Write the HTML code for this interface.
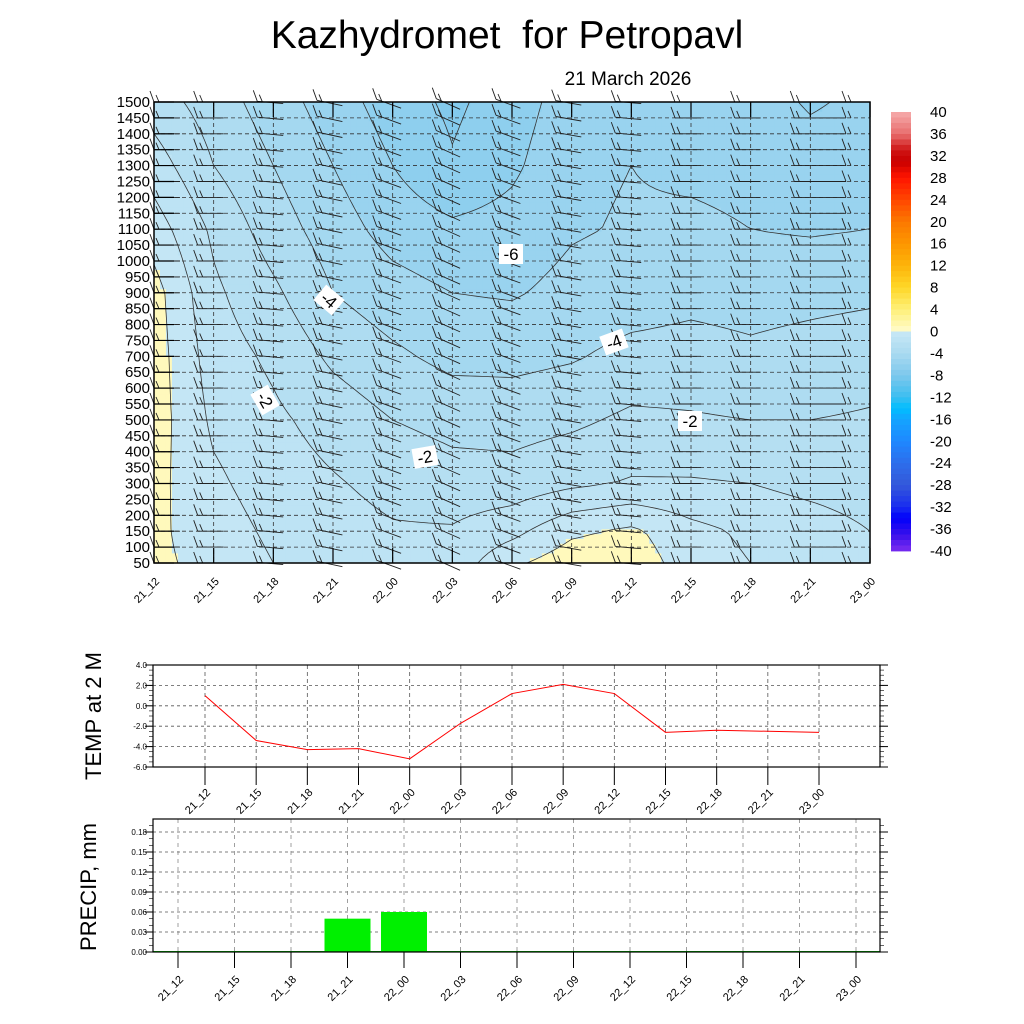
<!DOCTYPE html>
<html><head><meta charset="utf-8">
<style>
body{margin:0;background:#fff;width:1024px;height:1024px;overflow:hidden}
svg{display:block;font-family:"Liberation Sans",Arial,sans-serif}
</style></head>
<body>
<svg id="root" width="1024" height="1024" viewBox="0 0 1024 1024">
<text x="507" y="48" font-size="39" text-anchor="middle" style="white-space:pre">Kazhydromet  for Petropavl</text>
<text x="628" y="85" font-size="19" text-anchor="middle">21 March 2026</text>
<g id="cross"></g>
<g id="cbar"></g>
<g id="temp"></g>
<g id="prec"></g>
</svg>
<script>
const NS="http://www.w3.org/2000/svg";
function mk(p,tag,a){const e=document.createElementNS(NS,tag);for(const k in a)e.setAttribute(k,a[k]);p.appendChild(e);return e;}

// ---------- DATA ----------
const timeLabels=["21_12","21_15","21_18","21_21","22_00","22_03","22_06","22_09","22_12","22_15","22_18","22_21","23_00"];
const heightTicks=[1500,1450,1400,1350,1300,1250,1200,1150,1100,1050,1000,950,900,850,800,750,700,650,600,550,500,450,400,350,300,250,200,150,100,50];
const gridLevels=[50,150,300,500,700,900,1100,1300,1500];
const tRow50  =[0.2,-0.3,-1.0,-1.4,-1.8,-1.6,-0.2,0.6,0.6,-0.5,-1.0,-1.6,-1.8];
const tRow150 =[0.2,-0.5,-1.2,-1.6,-1.9,-1.9,-1.3,-0.2,0.2,-0.7,-1.2,-1.5,-2.0];
const tRow300 =[0.3,-0.8,-1.5,-1.9,-2.3,-2.6,-2.6,-2.2,-1.9,-1.9,-2.0,-2.3,-2.5];
const tRow500 =[0.5,-1.2,-1.8,-2.4,-3.0,-3.3,-3.4,-3.2,-2.8,-2.9,-3.0,-3.0,-2.9];
const tRow700 =[0.5,-1.5,-2.2,-3.2,-3.8,-4.3,-4.3,-4.1,-3.7,-3.6,-3.8,-3.6,-3.4];
const tRow900 =[0.4,-1.8,-2.8,-4.0,-4.6,-5.0,-5.1,-4.7,-4.5,-4.3,-4.4,-4.3,-4.2];
const tRow1100=[-0.5,-2.2,-3.5,-4.5,-5.4,-5.8,-5.6,-5.1,-4.9,-4.8,-5.0,-5.1,-5.0];
const tRow1300=[-1.5,-3.0,-4.0,-5.0,-6.0,-6.9,-6.2,-5.2,-5.0,-5.2,-5.3,-5.6,-5.5];
const tRow1500=[-2.5,-3.5,-4.5,-5.5,-6.5,-7.2,-6.5,-5.5,-5.2,-5.5,-5.6,-6.1,-5.8];
const tempRows=[tRow50,tRow150,tRow300,tRow500,tRow700,tRow900,tRow1100,tRow1300,tRow1500];
const windAngle=[0,0,5,12,20,24,20,10,5,0,0,0,180]; // staff direction (deg) per column
const cbarLabels=[40,36,32,28,24,20,16,12,8,4,0,-4,-8,-12,-16,-20,-24,-28,-32,-36,-40];
const tempCats=["21_12","21_15","21_18","21_21","22_00","22_03","22_06","22_09","22_12","22_15","22_18","22_21","23_00"];
const temp2m=[1.0,-3.4,-4.3,-4.2,-5.2,-1.7,1.2,2.1,1.2,-2.6,-2.4,-2.5,-2.6];
const tempTicks=[4,2,0,-2,-4,-6];
const precipCats=["21_12","21_15","21_18","21_21","22_00","22_03","22_06","22_09","22_12","22_15","22_18","22_21","23_00"];
const precip=[0,0,0,0.05,0.06,0,0,0,0,0,0,0,0];
const precipTicks=[0,0.03,0.06,0.09,0.12,0.15,0.18];

// ---------- COLORS ----------
const stops=[[40,[246,172,172]],[36,[232,110,110]],[33,[206,20,20]],[31,[200,0,0]],[28,[255,20,0]],[24,[255,70,0]],[20,[252,120,0]],[16,[253,150,0]],[12,[253,180,10]],[8,[254,215,40]],[4,[254,240,120]],[0.01,[255,251,205]],
[0,[200,232,246]],[-4,[170,218,240]],[-8,[125,200,236]],[-12,[60,190,240]],[-14,[0,190,255]],[-16,[20,165,255]],[-20,[30,136,255]],[-24,[45,110,235]],[-28,[52,88,218]],[-32,[25,45,240]],[-34,[0,0,250]],[-37,[55,15,235]],[-40,[125,45,240]]];
function colorAt(v){
  if(v>=stops[0][0])return stops[0][1];
  for(let i=0;i<stops.length-1;i++){const a=stops[i],b=stops[i+1];
    if(v<=a[0]&&v>=b[0]){const t=(a[0]-v)/(a[0]-b[0]||1);return a[1].map((c,k)=>Math.round(c+(b[1][k]-c)*t));}}
  return stops[stops.length-1][1];
}
function rgb(c){return "rgb("+c.join(",")+")";}
function bandColor(T){ if(T>=0) return "#fff9bc"; const b=Math.floor(T); return rgb(colorAt(b+0.5)); }

// ---------- CROSS SECTION ----------
const X0=154,X1=870,Y0=102,Y1=563;
const xCol=i=>X0+(X1-X0)*i/(timeLabels.length-1);
const yLev=h=>Y1-(h-50)/1450*(Y1-Y0);
function tAt(ci,h){
  const i0=Math.max(0,Math.min(timeLabels.length-2,Math.floor(ci))),fx=ci-i0;
  let j=0;while(j<gridLevels.length-2&&h>gridLevels[j+1])j++;
  const fy=(h-gridLevels[j])/(gridLevels[j+1]-gridLevels[j]);
  const a=tempRows[j][i0]*(1-fx)+tempRows[j][i0+1]*fx;
  const b=tempRows[j+1][i0]*(1-fx)+tempRows[j+1][i0+1]*fx;
  return a*(1-fy)+b*fy;
}
const cs=document.getElementById('cross');
const NX=120,NY=96;
const fillG=mk(cs,'g',{});


const cw=(X1-X0)/NX,ch=(Y1-Y0)/NY;
const node=[];
for(let r=0;r<=NY;r++){node.push([]);for(let c=0;c<=NX;c++){const ci=c/NX*(timeLabels.length-1);const h=50+(NY-r)/NY*1450;node[r].push(tAt(ci,h));}}
for(let r=0;r<NY;r++)for(let c=0;c<NX;c++){
  const T=(node[r][c]+node[r+1][c]+node[r][c+1]+node[r+1][c+1])/4;
  const e=mk(fillG,'rect',{x:(X0+c*cw).toFixed(2),y:(Y0+r*ch).toFixed(2),width:(cw+0.6).toFixed(2),height:(ch+0.6).toFixed(2),fill:bandColor(T)});
  
  
}
for(let L=-7;L<=0;L++){
  let d="";
  for(let r=0;r<NY;r++)for(let c=0;c<NX;c++){
    const v=[node[r][c],node[r][c+1],node[r+1][c+1],node[r+1][c]];
    const p=[[X0+c*cw,Y0+r*ch],[X0+(c+1)*cw,Y0+r*ch],[X0+(c+1)*cw,Y0+(r+1)*ch],[X0+c*cw,Y0+(r+1)*ch]];
    const pts=[];
    for(let k=0;k<4;k++){const a=v[k],b=v[(k+1)%4];
      if((a<L)!==(b<L)){const t=(L-a)/(b-a);const pa=p[k],pb=p[(k+1)%4];pts.push([pa[0]+(pb[0]-pa[0])*t,pa[1]+(pb[1]-pa[1])*t]);}}
    for(let k=0;k+1<pts.length;k+=2)d+="M"+pts[k][0].toFixed(1)+" "+pts[k][1].toFixed(1)+"L"+pts[k+1][0].toFixed(1)+" "+pts[k+1][1].toFixed(1);
  }
  const e=mk(cs,'path',{d:d,stroke:"#333",'stroke-width':0.8,fill:"none"});
  
  
}
const gridG=mk(cs,'g',{stroke:"#333",'stroke-width':0.8,'stroke-dasharray':"4 3",fill:"none"});
heightTicks.forEach(h=>{const l=mk(gridG,'line',{x1:X0,x2:X1,y1:yLev(h),y2:yLev(h)});
  
  });
timeLabels.forEach((t,i)=>{const l=mk(gridG,'line',{x1:xCol(i),x2:xCol(i),y1:Y0,y2:Y1});
  
  });
const barbG=mk(cs,'g',{stroke:"#222",'stroke-width':0.9,fill:"none"});
timeLabels.forEach((t,i)=>{heightTicks.forEach(h=>{
  const x=xCol(i),y=yLev(h),a=windAngle[i]*Math.PI/180,len=26;
  const sx=i===0?x:(i===12?x-24:x-16), sy=y-Math.sin(a)*8;
  const ex=sx+Math.cos(a)*len, ey=sy+Math.sin(a)*len;
  const ox=sx, oy=sy;
  const d="M"+sx.toFixed(1)+" "+sy.toFixed(1)+"L"+ex.toFixed(1)+" "+ey.toFixed(1)+"M"+ox.toFixed(1)+" "+oy.toFixed(1)+"l-4 -11"+"M"+(ox+5).toFixed(1)+" "+(oy+Math.sin(a)*5).toFixed(1)+"l-3 -7";
  const e=mk(barbG,'path',{d:d});
  
  
});});
const fr=mk(cs,'rect',{x:X0,y:Y0,width:X1-X0,height:Y1-Y0,fill:"none",stroke:"#000",'stroke-width':1.5});


heightTicks.forEach(h=>{
  const t=mk(cs,'text',{x:150,y:yLev(h)+5,'font-size':15,'text-anchor':'end'});t.textContent=h;
  
  
  mk(cs,'line',{x1:X0,x2:X0+20,y1:yLev(h),y2:yLev(h),stroke:"#000",'stroke-width':1.2});
});
timeLabels.forEach((lab,i)=>{
  const x=xCol(i);
  mk(cs,'line',{x1:x,x2:x,y1:Y0,y2:Y0+15,stroke:"#000",'stroke-width':1.2});
  mk(cs,'line',{x1:x,x2:x,y1:Y1,y2:Y1-15,stroke:"#000",'stroke-width':1.2});
  const t=mk(cs,'text',{x:x+6,y:582,'font-size':11,'text-anchor':'end',transform:"rotate(-45 "+(x+6)+" 582)"});t.textContent=lab;
  
  
});
[["-4",329,300,40],["-2",265,400,60],["-2",425,457,-10],["-6",511,254,0],["-4",614,342,-20],["-2",690,421,0]].forEach(c=>{
  const g=mk(cs,'g',{transform:"translate("+c[1]+" "+c[2]+") rotate("+c[3]+")"});
  
  
  mk(g,'rect',{x:-12,y:-10,width:24,height:20,fill:"#fff"});
  const t=mk(g,'text',{x:0,y:6,'font-size':17,'text-anchor':'middle'});t.textContent=c[0];
});

// ---------- COLORBAR ----------
const cb=document.getElementById('cbar');
const CB_T=112,CB_B=551,CB_X=891,CB_W=20;
const yCb=v=>CB_T+(40-v)/80*(CB_B-CB_T);
for(let v=40;v>-40;v--){
  const e=mk(cb,'rect',{x:CB_X,y:yCb(v).toFixed(2),width:CB_W,height:(yCb(v-1)-yCb(v)+0.4).toFixed(2),fill:rgb(colorAt(v-0.5))});
  
  
}
cbarLabels.forEach(v=>{const t=mk(cb,'text',{x:930,y:yCb(v)+5,'font-size':15});t.textContent=v;
  
  });

// ---------- TEMP CHART ----------
const tg=document.getElementById('temp');
const TX0=153,TX1=880,TY0=665,TY1=767;
const xT=i=>205+(819-205)*i/(tempCats.length-1);
const yT=v=>TY1-(v+6)/10*(TY1-TY0);
tempTicks.forEach(v=>{
  if(v!==4&&v!==-6){const l=mk(tg,'line',{x1:TX0,x2:TX1,y1:yT(v),y2:yT(v),stroke:"#555",'stroke-dasharray':"3 3",'stroke-width':0.8});
    
    }
  const t=mk(tg,'text',{x:147,y:yT(v)+3,'font-size':8,'text-anchor':'end'});t.textContent=v.toFixed(1);
  
  
  mk(tg,'line',{x1:TX0,x2:TX0-8,y1:yT(v),y2:yT(v),stroke:"#000"});
  mk(tg,'line',{x1:TX1,x2:TX1+8,y1:yT(v),y2:yT(v),stroke:"#000"});
});
for(let v=-6;v<=4;v+=0.5){mk(tg,'line',{x1:TX0,x2:TX0-4,y1:yT(v),y2:yT(v),stroke:"#000",'stroke-width':0.6});mk(tg,'line',{x1:TX1,x2:TX1+4,y1:yT(v),y2:yT(v),stroke:"#000",'stroke-width':0.6});}
tempCats.forEach((c,i)=>{
  const l=mk(tg,'line',{x1:xT(i),x2:xT(i),y1:TY0,y2:TY1,stroke:"#555",'stroke-dasharray':"4 3",'stroke-width':0.8});
  
  
  mk(tg,'line',{x1:xT(i),x2:xT(i),y1:TY1,y2:TY1+18,stroke:"#000"});
  const t=mk(tg,'text',{x:xT(i)+6,y:793,'font-size':11,'text-anchor':'end',transform:"rotate(-45 "+(xT(i)+6)+" 793)"});t.textContent=c;
  
  
});
const tf=mk(tg,'rect',{x:TX0,y:TY0,width:TX1-TX0,height:TY1-TY0,fill:"none",stroke:"#000",'stroke-width':1.2});


const tl=mk(tg,'polyline',{points:temp2m.map((v,i)=>xT(i)+","+yT(v)).join(" "),fill:"none",stroke:"#f00",'stroke-width':1});


const tt=mk(tg,'text',{x:101,y:716,'font-size':22,'text-anchor':'middle',transform:"rotate(-90 101 716)"});tt.textContent="TEMP at 2 M";



// ---------- PRECIP CHART ----------
const pg=document.getElementById('prec');
const PX0=153,PX1=880,PY0=819,PY1=952;
const xP=i=>178+(856-178)*i/(precipCats.length-1);
const yP=v=>PY1-v/0.18*(PY1-832);
precipTicks.forEach(v=>{
  if(v>0){const l=mk(pg,'line',{x1:PX0,x2:PX1,y1:yP(v),y2:yP(v),stroke:"#555",'stroke-dasharray':"3 3",'stroke-width':0.8});
    
    }
  const t=mk(pg,'text',{x:147,y:yP(v)+3,'font-size':8,'text-anchor':'end'});t.textContent=v.toFixed(2);
  
  
  mk(pg,'line',{x1:PX0,x2:PX0-8,y1:yP(v),y2:yP(v),stroke:"#000"});
  mk(pg,'line',{x1:PX1,x2:PX1+8,y1:yP(v),y2:yP(v),stroke:"#000"});
});
for(let v=0;v<=0.195;v+=0.01){mk(pg,'line',{x1:PX0,x2:PX0-4,y1:yP(v),y2:yP(v),stroke:"#000",'stroke-width':0.6});mk(pg,'line',{x1:PX1,x2:PX1+4,y1:yP(v),y2:yP(v),stroke:"#000",'stroke-width':0.6});}
precipCats.forEach((c,i)=>{
  const l=mk(pg,'line',{x1:xP(i),x2:xP(i),y1:PY0,y2:PY1,stroke:"#888",'stroke-dasharray':"4 4",'stroke-width':0.8});
  
  
  mk(pg,'line',{x1:xP(i),x2:xP(i),y1:PY1,y2:PY1+16,stroke:"#000"});
  const t=mk(pg,'text',{x:xP(i)+6,y:980,'font-size':11,'text-anchor':'end',transform:"rotate(-45 "+(xP(i)+6)+" 980)"});t.textContent=c;
  
  
  if(precip[i]>0){const b=mk(pg,'rect',{x:xP(i)-23,y:yP(precip[i]),width:46,height:PY1-yP(precip[i]),fill:"#00f000"});
    
    }
});
mk(pg,'line',{x1:PX0,x2:PX1,y1:PY1-0.5,y2:PY1-0.5,stroke:"#00c000",'stroke-width':1});
const pf=mk(pg,'rect',{x:PX0,y:PY0,width:PX1-PX0,height:PY1-PY0,fill:"none",stroke:"#000",'stroke-width':1.2});


const pt=mk(pg,'text',{x:96,y:887,'font-size':22,'text-anchor':'middle',transform:"rotate(-90 96 887)"});pt.textContent="PRECIP, mm";


</script>
</body></html>
